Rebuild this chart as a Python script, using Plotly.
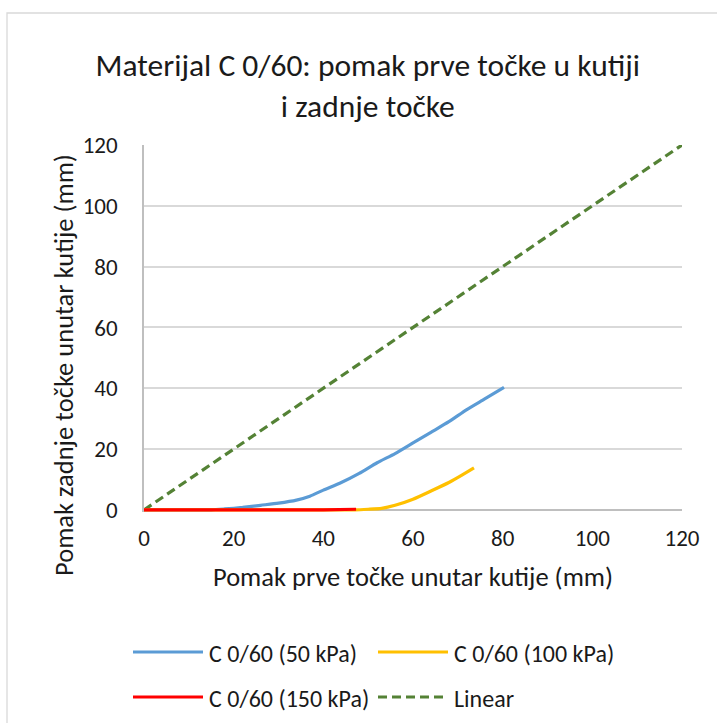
import plotly.graph_objects as go

# Displacement data (mm)
x_50 = [0, 5, 10, 15, 18, 22, 26, 30, 34, 37, 40, 44, 48, 52, 56, 60, 64, 68, 72, 76, 80.3]
y_50 = [0, 0, 0, 0, 0.3, 0.8, 1.5, 2.2, 3.2, 4.5, 6.5, 9, 12, 15.5, 18.5, 22, 25.5, 29, 33, 36.5, 40.3]

x_100 = [0, 10, 20, 30, 40, 47, 50, 53, 56, 60, 64, 68, 71, 73.6]
y_100 = [0, 0, 0, 0, 0, 0, 0.2, 0.5, 1.5, 3.5, 6.2, 9.0, 11.5, 13.8]

x_150 = [0, 10, 20, 30, 40, 47.3]
y_150 = [0, 0, 0, 0, 0, 0.2]

x_lin = [0, 120]
y_lin = [0, 120]

names = ["C 0/60 (50 kPa)", "C 0/60 (100 kPa)", "C 0/60 (150 kPa)", "Linear"]
colors = ["#5B9BD5", "#FFC000", "#FF0000", "#548235"]
dashes = ["solid", "solid", "solid", "9px,5px"]

tick_vals = [0, 20, 40, 60, 80, 100, 120]

W, H = 717, 723
L, R, T, B = 144, 35, 145, 211
PW, PH = W - L - R, H - T - B
Y_MIN = -0.7  # small pad so lines lying on y=0 are not clipped

FONT = "Calibri, Carlito, 'Liberation Sans Narrow', 'Liberation Sans', sans-serif"
TXT = "#1a1a1a"

fig = go.Figure()
series = [(x_50, y_50), (x_100, y_100), (x_150, y_150), (x_lin, y_lin)]
order = [3, 0, 1, 2]
for i in order:
    xs, ys = series[i]
    fig.add_trace(go.Scatter(
        x=xs, y=ys, mode="lines", name=names[i], showlegend=False,
        line=dict(color=colors[i], width=3.2, dash=dashes[i], shape="spline", smoothing=0.6),
    ))


def px_x(p):
    return (p - L) / PW


def px_y(p):
    return (H - B - p) / PH


shapes = []
annotations = []

# Outer chart border
shapes.append(dict(type="rect", xref="paper", yref="paper",
                   x0=px_x(7), x1=px_x(W + 20), y0=px_y(H + 20), y1=px_y(13),
                   line=dict(color="#D9D9D9", width=1.3), fillcolor="rgba(0,0,0,0)", layer="below"))

# Vertical axis title
annotations.append(dict(xref="paper", yref="paper", x=px_x(64), y=px_y(365),
                        text="Pomak zadnje točke unutar kutije (mm)", textangle=-90,
                        showarrow=False, xanchor="center", yanchor="middle",
                        font=dict(family=FONT, size=26.5, color=TXT)))

# Legend entries (line sample + label), two columns by two rows
legend_pos = [(133, 652), (378, 652), (133, 697), (378, 697)]
for i, (lx, ly) in enumerate(legend_pos):
    shapes.append(dict(type="line", xref="paper", yref="paper",
                       x0=px_x(lx), x1=px_x(lx + 70), y0=px_y(ly), y1=px_y(ly),
                       line=dict(color=colors[i], width=3.2, dash=dashes[i])))
    annotations.append(dict(xref="paper", yref="paper", x=px_x(lx + 74), y=px_y(ly + 1),
                            text=names[i], showarrow=False, xanchor="left", yanchor="middle",
                            font=dict(family=FONT, size=24, color=TXT)))

fig.update_layout(
    width=W, height=H,
    margin=dict(l=L, r=R, t=T, b=B),
    paper_bgcolor="white", plot_bgcolor="white",
    title=dict(text="Materijal C 0/60: pomak prve točke u kutiji<br>i zadnje točke",
               x=0.513, xanchor="center", y=1 - 76 / H, yanchor="middle",
               font=dict(family=FONT, size=31.5, color=TXT)),
    xaxis=dict(range=[0, 120], tickvals=tick_vals, showgrid=False, zeroline=False,
               showline=False, ticks="",
               ticklabelstandoff=10,
               tickfont=dict(family=FONT, size=23, color=TXT),
               title=dict(text="Pomak prve točke unutar kutije (mm)", standoff=16,
                          font=dict(family=FONT, size=26.5, color=TXT))),
    yaxis=dict(range=[Y_MIN, 120], tickvals=tick_vals, showgrid=True, gridcolor="#D9D9D9",
               gridwidth=1.5, zeroline=True, zerolinecolor="#BFBFBF", zerolinewidth=1.5,
               showline=True, linecolor="#BFBFBF",
               linewidth=1.5, ticks="", ticklabelstandoff=20,
               tickfont=dict(family=FONT, size=23, color=TXT)),
    shapes=shapes,
    annotations=annotations,
)

fig.write_html("out.html")
